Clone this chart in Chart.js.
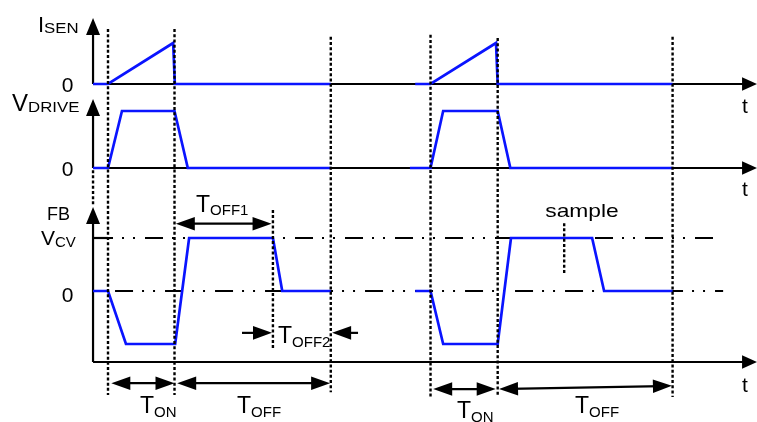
<!DOCTYPE html>
<html><head><meta charset="utf-8">
<script src="https://cdn.jsdelivr.net/npm/chart.js@4.4.1/dist/chart.umd.min.js"></script>
<style>
html,body{margin:0;padding:0;background:#fff;}
#wrap{position:relative;width:757px;height:422px;}
canvas{display:block;}
</style>
</head><body>
<div id="wrap"><canvas id="c"></canvas></div>
<script>
// ---------------- data (time in µs, 0 = first switch-on edge) ----------------
const T_AXIS = -2.25;          // where the vertical axes stand
const T_END = 97.6;            // tip of the time axes

// I_SEN (normalised: 1 = peak current)
const isenT = [T_AXIS, 0, 9.8, 10.05, 33.5, 40, 46.2, 48.5, 58.35, 58.6, 84.9];
const isenV = [0, 0, 1, 0, 0, null, 0, 0, 1, 0, 0];

// V_DRIVE (normalised: 1 = gate high)
const driveT = [T_AXIS, 0, 2.1, 10, 12.0, 33.5, 40, 45.4, 48.5, 50.4, 58.6, 60.5, 84.9];
const driveV = [0, 0, 1, 1, 0, 0, null, 0, 0, 1, 1, 0, 0];

// FB (normalised: 1 = V_CV)
const fbT = [T_AXIS, 0, 2.7, 10.1, 12.2, 24.8, 26.2, 33.5, 40, 46.2, 48.5, 50.4, 58.6, 60.6, 72.8, 74.6, 84.9];
const fbV = [0, 0, -1, -1, 1, 1, 0, 0, null, 0, 0, -1, -1, 1, 1, 0, 0];

// reference levels on the FB panel
const VCV_LEVEL = 1;
const vcvRefT = [0, 91.3];
const zeroRefT = [T_AXIS, 92.5];
const vcvTickT = [T_AXIS, 0];
const FB_TIME_AXIS = -1.34;     // FB panel time axis level

// vertical axis tops
const isenAxisTop = 1.61;
const driveAxisTop = 1.21;
const fbAxisTop = 1.585;

// dotted switching-edge markers (top in I_SEN units, bottom in FB units)
const edgeT      = [0, 10, 33.5, 48.5, 58.6, 84.9];
const edgeTop    = [1.34, 1.34, 1.15, 1.2, 1.12, 1.15];
const edgeBottom = [-1.96, -1.96, -1.91, -2.0, -2.0, -2.0];

// short dotted markers on the FB panel (FB units)
const markT      = [24.8, 68.6, T_AXIS];
const markTop    = [1.53, 1.28, 2.28];
const markBottom = [-1.11, 0.3, 1.62];

// double-headed time spans (FB units)
const spanLabels   = ['TON', 'TOFF', 'TON', 'TOFF', 'TOFF1'];
const spanStart    = [0.5, 10.4, 48.9, 58.8, 10.2];
const spanEnd      = [10.0, 33.4, 58.3, 84.8, 24.6];
const spanLvStart  = [-1.74, -1.74, -1.85, -1.85, 1.27];
const spanLvEnd    = [-1.74, -1.74, -1.85, -1.79, 1.27];

// T_OFF2 inward pointers (FB units)
const ptrFrom = [20.15, 37.6];
const ptrTo   = [24.66, 33.7];
const PTR_LEVEL = -0.79;

// ---------------- layout helpers ----------------
const W = 757, H = 422;
function xRange(originPx, pxPerUnit) {
  return { min: -originPx / pxPerUnit, max: (W - originPx) / pxPerUnit };
}
function yRange(zeroPx, onePx) {
  const u = zeroPx - onePx;
  return { min: -(H - zeroPx) / u, max: zeroPx / u };
}
const zip = (ts, vs) => ts.map((t, i) => ({ x: t, y: vs[i] }));
const BLUE = '#0a14ff';
const FONT = '"Liberation Sans", Arial, Helvetica, sans-serif';

function arrowHead(ctx, xt, yt, xf, yf, L, Wd) {
  const a = Math.atan2(yt - yf, xt - xf);
  const c = Math.cos(a), s = Math.sin(a);
  ctx.beginPath();
  ctx.moveTo(xt, yt);
  ctx.lineTo(xt - L * c + Wd * s, yt - L * s - Wd * c);
  ctx.lineTo(xt - L * c - Wd * s, yt - L * s + Wd * c);
  ctx.closePath();
  ctx.fill();
}
function line(ctx, x1, y1, x2, y2) {
  ctx.beginPath(); ctx.moveTo(x1, y1); ctx.lineTo(x2, y2); ctx.stroke();
}
function txt(ctx, s, x, y, size, sx) {
  sx = sx || 1;
  ctx.save();
  ctx.font = size + 'px ' + FONT;
  ctx.fillStyle = '#000';
  ctx.textBaseline = 'alphabetic';
  ctx.textAlign = 'left';
  const w = ctx.measureText(s).width * sx;
  ctx.translate(x, y); ctx.scale(sx, 1);
  ctx.fillText(s, 0, 0);
  ctx.restore();
  return w;
}
function txtC(ctx, s, cx, y, size, sx) {
  ctx.save();
  ctx.font = size + 'px ' + FONT;
  const w = ctx.measureText(s).width * (sx || 1);
  ctx.restore();
  txt(ctx, s, cx - w / 2, y, size, sx);
}
function subLabel(ctx, main, sub, x, y, mainSize, subSize, subSx, drop) {
  const w = txt(ctx, main, x, y, mainSize);
  txt(ctx, sub, x + w, y + (drop == null ? 3 : drop), subSize, subSx);
}

const decor = {
  id: 'decor',
  beforeDatasetsDraw(chart) {
    const { ctx, scales } = chart;
    const x = scales.x, ys = scales.ySen, yd = scales.yDrive, yf = scales.yFb;
    ctx.save();
    ctx.strokeStyle = '#000'; ctx.fillStyle = '#000'; ctx.lineWidth = 2.2; ctx.lineCap = 'butt';
    const xa = x.getPixelForValue(T_AXIS), xe = x.getPixelForValue(T_END);
    // time axes
    [[ys, 0], [yd, 0], [yf, FB_TIME_AXIS]].forEach(([sc, v]) => {
      const py = sc.getPixelForValue(v);
      line(ctx, xa, py, xe - 8, py);
      arrowHead(ctx, xe, py, xa, py, 15, 6.8);
    });
    // vertical axes
    [[ys, 0, isenAxisTop], [yd, 0, driveAxisTop], [yf, FB_TIME_AXIS, fbAxisTop]].forEach(([sc, v0, v1]) => {
      const p0 = sc.getPixelForValue(v0), p1 = sc.getPixelForValue(v1);
      line(ctx, xa, p0, xa, p1 + 8);
      arrowHead(ctx, xa, p1, xa, p0, 17, 7);
    });
    ctx.restore();
  },
  afterDatasetsDraw(chart) {
    const { ctx, scales } = chart;
    const x = scales.x, ys = scales.ySen, yf = scales.yFb;
    ctx.save();
    ctx.strokeStyle = '#000'; ctx.fillStyle = '#000';
    // dotted markers
    ctx.lineWidth = 2.4; ctx.setLineDash([3, 2.2]);
    edgeT.forEach((t, i) => {
      const px = x.getPixelForValue(t);
      line(ctx, px, ys.getPixelForValue(edgeTop[i]), px, yf.getPixelForValue(edgeBottom[i]));
    });
    markT.forEach((t, i) => {
      const px = x.getPixelForValue(t);
      line(ctx, px, yf.getPixelForValue(markTop[i]), px, yf.getPixelForValue(markBottom[i]));
    });
    ctx.setLineDash([]);
    // spans
    ctx.lineWidth = 2.2;
    spanStart.forEach((t0, i) => {
      const x0 = x.getPixelForValue(t0), x1 = x.getPixelForValue(spanEnd[i]);
      const y0 = yf.getPixelForValue(spanLvStart[i]), y1 = yf.getPixelForValue(spanLvEnd[i]);
      line(ctx, x0 + 10, y0 + (y1 - y0) * 10 / (x1 - x0), x1 - 10, y1 - (y1 - y0) * 10 / (x1 - x0));
      arrowHead(ctx, x0, y0, x1, y1, 19, 6.8);
      arrowHead(ctx, x1, y1, x0, y0, 19, 6.8);
    });
    // T_OFF2 pointers
    ptrFrom.forEach((t0, i) => {
      const x0 = x.getPixelForValue(t0), x1 = x.getPixelForValue(ptrTo[i]);
      const py = yf.getPixelForValue(PTR_LEVEL);
      line(ctx, x0, py, x1 - Math.sign(x1 - x0) * 10, py);
      arrowHead(ctx, x1, py, x0, py, 19, 6.8);
    });
    ctx.restore();
  },
  afterDraw(chart) {
    const { ctx } = chart;
    ctx.save();
    // signal names
    subLabel(ctx, 'I', 'SEN', 38, 32, 22, 14, 1.2, 1);
    subLabel(ctx, 'V', 'DRIVE', 12, 111, 24, 14, 1.2, 1);
    txt(ctx, 'FB', 47, 220, 18);
    subLabel(ctx, 'V', 'CV', 41, 245, 21, 15, 1, 2);
    txtC(ctx, '0', 67.5, 92, 21);
    txtC(ctx, '0', 67.5, 175.5, 21);
    txtC(ctx, '0', 67.5, 301.5, 21);
    // t labels
    txt(ctx, 't', 742, 113, 21);
    txt(ctx, 't', 742, 196, 21);
    txt(ctx, 't', 742, 392, 21);
    // span labels
    subLabel(ctx, 'T', 'OFF1', 196, 212, 23, 15, 1, 3);
    subLabel(ctx, 'T', 'OFF2', 278, 343, 23, 15, 1, 4);
    subLabel(ctx, 'T', 'ON', 140, 413, 23, 15, 1, 4);
    subLabel(ctx, 'T', 'OFF', 237, 413, 23, 15, 1, 4);
    subLabel(ctx, 'T', 'ON', 457, 418, 23, 15, 1, 4);
    subLabel(ctx, 'T', 'OFF', 575, 413, 23, 15, 1, 4);
    txtC(ctx, 'sample', 582, 217, 19, 1.2);
    ctx.restore();
  }
};

const xr = xRange(108, 6.65);
const DASH = [18, 9, 2, 9, 2, 10];

new Chart(document.getElementById('c'), {
  type: 'line',
  data: {
    datasets: [
      { label: 'I_SEN', data: zip(isenT, isenV), yAxisID: 'ySen', borderColor: BLUE, borderWidth: 2.7, order: 0 },
      { label: 'V_DRIVE', data: zip(driveT, driveV), yAxisID: 'yDrive', borderColor: BLUE, borderWidth: 2.7, order: 0 },
      { label: 'FB', data: zip(fbT, fbV), yAxisID: 'yFb', borderColor: BLUE, borderWidth: 2.7, order: 0 },
      { label: 'V_CV ref', data: zip(vcvRefT, vcvRefT.map(() => VCV_LEVEL)), yAxisID: 'yFb', borderColor: '#000', borderWidth: 2.2, borderDash: DASH, borderDashOffset: 13, order: 1 },
      { label: '0 ref', data: zip(zeroRefT, zeroRefT.map(() => 0)), yAxisID: 'yFb', borderColor: '#000', borderWidth: 2.2, borderDash: DASH, borderDashOffset: 28, order: 1 },
      { label: 'V_CV tick', data: zip(vcvTickT, vcvTickT.map(() => VCV_LEVEL)), yAxisID: 'yFb', borderColor: '#000', borderWidth: 2.2, order: 1 }
    ]
  },
  options: {
    responsive: true,
    maintainAspectRatio: false,
    animation: false,
    layout: { padding: 0 },
    elements: { point: { radius: 0, hoverRadius: 0 }, line: { tension: 0, borderCapStyle: 'butt', borderJoinStyle: 'miter' } },
    spanGaps: false,
    events: [],
    plugins: { legend: { display: false }, tooltip: { enabled: false }, title: { display: false } },
    scales: {
      x: { type: 'linear', display: false, bounds: 'data', min: xr.min, max: xr.max },
      ySen: { type: 'linear', display: false, bounds: 'data', ...yRange(84, 43) },
      yDrive: { type: 'linear', display: false, bounds: 'data', ...yRange(168, 111) },
      yFb: { type: 'linear', display: false, bounds: 'data', ...yRange(291, 238) }
    }
  },
  plugins: [decor]
});
</script>
</body></html>
